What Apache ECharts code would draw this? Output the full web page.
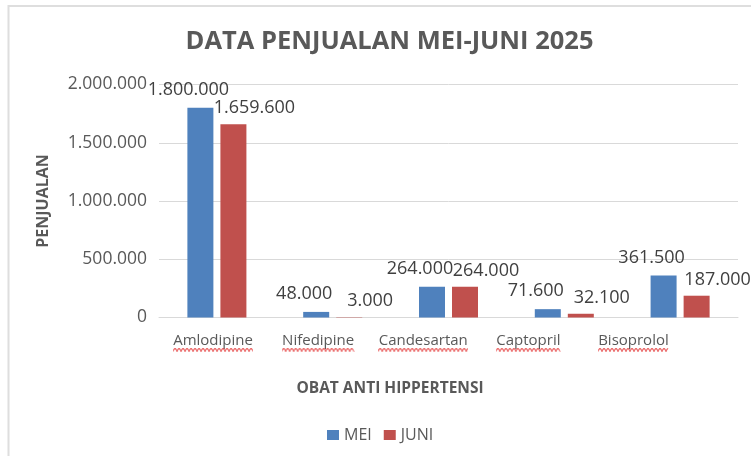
<!DOCTYPE html>
<html>
<head>
<meta charset="utf-8">
<script src="https://cdn.jsdelivr.net/npm/echarts@6/dist/echarts.min.js"></script>
<style>
html,body{margin:0;padding:0;background:#fff;}
#chart{width:751px;height:456px;}
</style>
</head>
<body>
<div id="chart"></div>
<script>
var categories = ['Amlodipine', 'Nifedipine', 'Candesartan', 'Captopril', 'Bisoprolol'];
var seriesNames = ['MEI', 'JUNI'];
var meiValues = [1800000, 48000, 264000, 71600, 361500];
var juniValues = [1659600, 3000, 264000, 32100, 187000];
var yTicks = [0, 500000, 1000000, 1500000, 2000000];

function fmt(v) {
  return String(v).replace(/\B(?=(\d{3})+(?!\d))/g, '.');
}

var FONT = '"Open Sans", "Noto Sans", sans-serif';
var catFontSize = 15;

// spell-check style wavy underline images, sized from the text width
var measureCtx = document.createElement('canvas').getContext('2d');
measureCtx.font = catFontSize + 'px "Open Sans"';
var rich = { t: { fontFamily: FONT, fontSize: catFontSize, color: '#595959', lineHeight: 13 } };
categories.forEach(function (c, i) {
  var w = Math.ceil(measureCtx.measureText(c).width);
  var cv = document.createElement('canvas');
  cv.width = w; cv.height = 4;
  var g = cv.getContext('2d');
  g.strokeStyle = '#e02020';
  g.lineWidth = 1;
  g.beginPath();
  for (var x = 0; x <= w; x += 2) {
    var y = (Math.floor(x / 2) % 2 === 0) ? 3.5 : 0.5;
    if (x === 0) g.moveTo(x, y); else g.lineTo(x, y);
  }
  g.stroke();
  rich['w' + i] = { width: w, height: 4, lineHeight: 4, backgroundColor: { image: cv } };
});

var chart = echarts.init(document.getElementById('chart'), null, { renderer: 'canvas' });
var option = {
  animation: false,
  backgroundColor: '#ffffff',
  graphic: [{
    type: 'rect',
    shape: { x: 8.5, y: 6, width: 800, height: 500 },
    style: { fill: 'none', stroke: '#dedede', lineWidth: 2 },
    silent: true
  }],
  title: [{
    text: 'DATA PENJUALAN MEI-JUNI 2025',
    left: 384.5,
    top: 24,
    textAlign: 'center',
    textStyle: { fontFamily: FONT, fontSize: 25.5, fontWeight: 'bold', color: '#595959' }
  }, {
    text: 'OBAT ANTI HIPPERTENSI',
    left: 385,
    top: 376,
    textAlign: 'center',
    textStyle: { fontFamily: FONT, fontSize: 15.5, fontWeight: 'bold', color: '#595959' }
  }],
  legend: {
    data: seriesNames,
    left: 322,
    top: 422,
    itemWidth: 12,
    itemHeight: 10,
    itemGap: 12,
    icon: 'rect',
    textStyle: { fontFamily: FONT, fontSize: 16, color: '#595959' }
  },
  grid: [{
    left: 159, right: 13, top: 84.5, bottom: 138.5
  }, {
    left: 160.5, right: 65, top: 84.5, bottom: 138.5
  }],
  xAxis: [{
    type: 'category',
    data: categories,
    gridIndex: 0,
    axisLine: { lineStyle: { color: '#d9d9d9', width: 1 } },
    axisTick: { show: false },
    axisLabel: { show: false }
  }, {
    type: 'category',
    data: categories,
    gridIndex: 1,
    axisLine: { show: false },
    axisTick: { show: false },
    axisLabel: {
      interval: 0,
      margin: 17,
      formatter: function (v, i) { return '{t|' + v + '}\n{w' + i + '|}'; },
      rich: rich
    }
  }],
  yAxis: [{
    type: 'value',
    gridIndex: 0,
    min: yTicks[0],
    max: yTicks[yTicks.length - 1],
    interval: yTicks[1] - yTicks[0],
    name: 'PENJUALAN',
    nameLocation: 'middle',
    nameGap: 108,
    nameTextStyle: { fontFamily: FONT, fontSize: 16, fontWeight: 'bold', color: '#595959' },
    axisLine: { show: false },
    axisTick: { show: false },
    splitLine: { lineStyle: { color: '#d9d9d9', width: 1 } },
    axisLabel: {
      margin: 12,
      fontFamily: FONT, fontSize: 17.5, color: '#595959',
      formatter: function (v) { return fmt(v); }
    }
  }, {
    type: 'value',
    gridIndex: 1,
    show: false
  }],
  series: [{
    name: seriesNames[0],
    type: 'bar',
    xAxisIndex: 0, yAxisIndex: 0,
    data: meiValues,
    barWidth: 26,
    barGap: '27%',
    itemStyle: { color: '#4f81bd' },
    label: {
      show: true, position: 'top', offset: [-12, -4],
      fontFamily: FONT, fontSize: 18, color: '#404040',
      formatter: function (p) { return fmt(p.value); }
    }
  }, {
    name: seriesNames[1],
    type: 'bar',
    xAxisIndex: 0, yAxisIndex: 0,
    data: juniValues,
    barWidth: 26,
    barGap: '27%',
    itemStyle: { color: '#c0504d' },
    label: {
      show: true, position: 'top', offset: [21, -2],
      fontFamily: FONT, fontSize: 18, color: '#404040',
      formatter: function (p) { return fmt(p.value); }
    }
  }]
};
chart.setOption(option);
</script>
</body>
</html>
